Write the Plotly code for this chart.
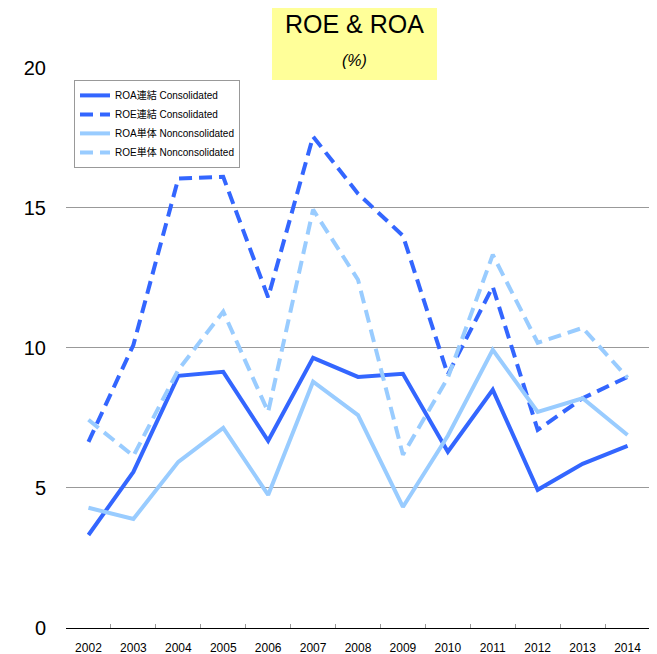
"""Plot ROE and ROA, consolidated and nonconsolidated."""
import plotly.graph_objects as go

years = ["2002", "2003", "2004", "2005", "2006", "2007", "2008",
         "2009", "2010", "2011", "2012", "2013", "2014"]
roa_consolidated = [3.32, 5.57, 9.0, 9.14, 6.68, 9.64, 8.96, 9.07, 6.29, 8.5, 4.93, 5.86, 6.5]
roe_consolidated = [6.64, 10.1, 16.04, 16.1, 11.8, 17.54, 15.5, 14.0, 9.04, 12.18, 7.07, 8.2, 8.96]
roa_nonconsolidated = [4.29, 3.89, 5.93, 7.14, 4.75, 8.79, 7.6, 4.32, 6.86, 9.93, 7.71, 8.2, 6.89]
roe_nonconsolidated = [7.43, 6.14, 9.21, 11.29, 7.71, 14.93, 12.43, 6.18, 8.93, 13.32, 10.18, 10.71, 8.93]

DARK = "#3366FF"
LIGHT = "#99CCFF"
FONT = "Liberation Sans, Noto Sans CJK JP"


def plot_roe_roa():
    """Plot ROE and ROA lines with plotly.

    Returns:
        go.Figure: figure

    """
    fig = go.Figure()
    fig.add_trace(
        go.Scatter(x=years, y=roa_consolidated, name="ROA連結 Consolidated", mode="lines",
                   line=dict(color=DARK, width=4)),
    )
    fig.add_trace(
        go.Scatter(x=years, y=roe_consolidated, name="ROE連結 Consolidated", mode="lines",
                   line=dict(color=DARK, width=4, dash="13px,7px")),
    )
    fig.add_trace(
        go.Scatter(x=years, y=roa_nonconsolidated, name="ROA単体 Nonconsolidated", mode="lines",
                   line=dict(color=LIGHT, width=4)),
    )
    fig.add_trace(
        go.Scatter(x=years, y=roe_nonconsolidated, name="ROE単体 Nonconsolidated", mode="lines",
                   line=dict(color=LIGHT, width=4, dash="13px,7px")),
    )
    fig = fig.update_layout(
        width=649,
        height=646,
        margin=dict(l=58, r=7, t=59, b=26),
        paper_bgcolor="white",
        plot_bgcolor="white",
        font=dict(family=FONT, color="black"),
        showlegend=True,
        legend=dict(x=0.0137, y=0.977, xanchor="left", yanchor="top",
                    bordercolor="#999999", borderwidth=1, bgcolor="white",
                    font=dict(size=10), tracegroupgap=0),
    )
    fig.update_xaxes(
        type="category",
        range=[-0.5, 12.5],
        tickson="boundaries",
        ticks="inside",
        ticklen=4,
        tickcolor="#999999",
        showgrid=False,
        showline=True,
        linecolor="black",
        linewidth=1,
        tickfont=dict(size=12),
        ticklabelstandoff=9,
        automargin=False,
    )
    fig.update_yaxes(
        range=[0, 20.02],
        tickvals=[0, 5, 10, 15, 20],
        showgrid=True,
        gridcolor="#999999",
        gridwidth=1,
        zeroline=False,
        showline=False,
        ticklabelstandoff=19,
        tickfont=dict(size=20),
        automargin=False,
    )
    # yellow title box over the top gridline
    fig.add_shape(type="rect", xref="paper", yref="paper",
                  x0=(264 - 58) / 584, x1=(429 - 58) / 584,
                  y0=(620 - 72) / 561, y1=(620 + 0) / 561,
                  fillcolor="#FFFF99", line=dict(width=0), layer="above")
    fig.add_annotation(
        x=(346 - 58) / 584, y=(620 - 16) / 561, xref="paper", yref="paper",
        yanchor="middle", text="ROE & ROA", showarrow=False, font=dict(size=25),
    )
    fig.add_annotation(
        x=(346 - 58) / 584, y=(620 - 52) / 561, xref="paper", yref="paper",
        yanchor="middle", text="<i>(%)</i>", showarrow=False, font=dict(size=16),
    )
    return fig


fig = plot_roe_roa()
fig.write_html("out.html")
